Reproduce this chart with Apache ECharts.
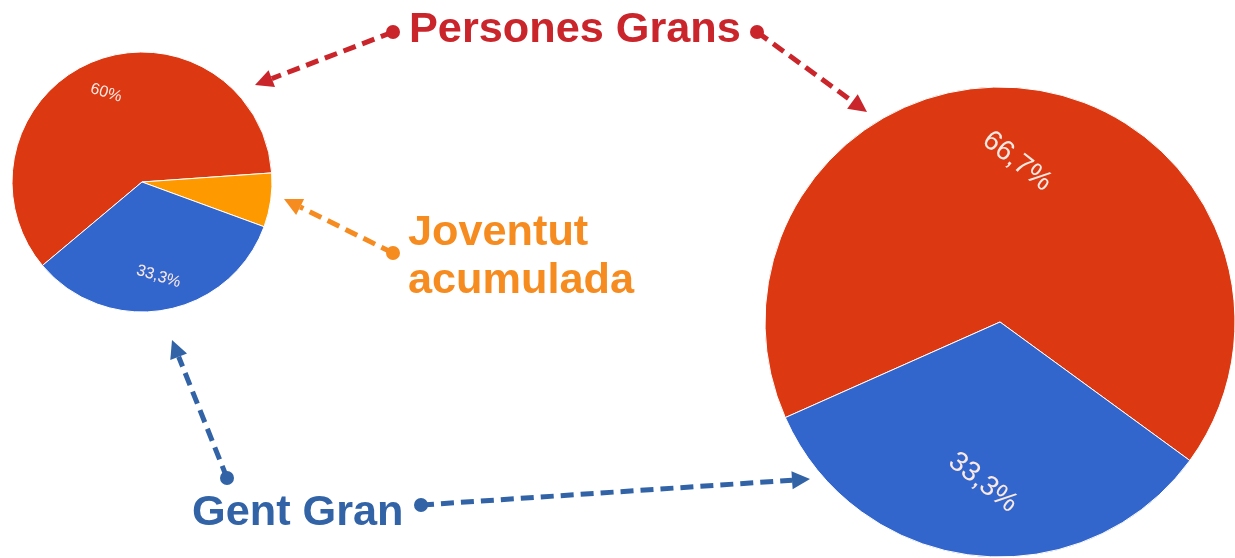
<!DOCTYPE html>
<html>
<head>
<meta charset="utf-8">
<script src="https://cdn.jsdelivr.net/npm/echarts@6/dist/echarts.min.js"></script>
<style>
  html, body { margin: 0; padding: 0; background: #fff; }
  #main { width: 1235px; height: 558px; }
</style>
</head>
<body>
<div id="main"></div>
<script>
// data
const leftNames = ['Persones Grans', 'Joventut acumulada', 'Gent Gran'];
const leftValues = [60, 6.7, 33.3];
const rightNames = ['Persones Grans', 'Gent Gran'];
const rightValues = [66.7, 33.3];
const sliceColors = {
  'Persones Grans': '#dc3912',
  'Joventut acumulada': '#ff9900',
  'Gent Gran': '#3366cc'
};
const hideLabel = ['Joventut acumulada'];

const RED = '#c9252b', ORANGE = '#f68b1f', BLUE = '#3163a6';
const FONT = '"Liberation Sans", Arial, sans-serif';

function pct(v) {
  return String(Math.round(v * 10) / 10).replace('.', ',') + '%';
}

function toData(names, values) {
  return names.map((n, i) => ({
    name: n,
    value: values[i],
    itemStyle: { color: sliceColors[n] }
  }));
}

function toLabelData(names, values) {
  return names.map((n, i) => ({
    name: n,
    value: values[i],
    label: { show: hideLabel.indexOf(n) < 0 }
  }));
}

function pieSeries(names, values, center, r, startAngle) {
  return {
    type: 'pie',
    center: center,
    radius: [0, r],
    startAngle: startAngle,
    clockwise: true,
    silent: true,
    label: { show: false },
    labelLine: { show: false },
    itemStyle: { borderColor: '#fff', borderWidth: 1 },
    emphasis: { disabled: true },
    data: toData(names, values)
  };
}

// transparent ring only used to place the percentage labels
function labelSeries(names, values, center, r, inner, startAngle, size, rot) {
  return {
    type: 'pie',
    center: center,
    radius: [Math.round(r * inner), r],
    startAngle: startAngle,
    clockwise: true,
    silent: true,
    itemStyle: { color: 'rgba(0,0,0,0)', borderWidth: 0 },
    emphasis: { disabled: true },
    labelLine: { show: false },
    label: {
      show: true,
      position: 'inside',
      rotate: rot,
      color: '#fbe9e4',
      fontFamily: FONT,
      fontSize: size,
      formatter: p => pct(p.value)
    },
    data: toLabelData(names, values)
  };
}

function arrow(x1, y1, x2, y2, color) {
  const dx = x2 - x1, dy = y2 - y1;
  const len = Math.sqrt(dx * dx + dy * dy);
  const ux = dx / len, uy = dy / len;
  const hl = 18, hw = 9;
  const bx = x2 - ux * hl, by = y2 - uy * hl;
  return [
    {
      type: 'line',
      shape: { x1: x1, y1: y1, x2: bx, y2: by },
      style: { stroke: color, lineWidth: 5, lineDash: [13, 7] }
    },
    {
      type: 'circle',
      shape: { cx: x1, cy: y1, r: 7 },
      style: { fill: color }
    },
    {
      type: 'polygon',
      shape: { points: [[x2, y2], [bx - uy * hw, by + ux * hw], [bx + uy * hw, by - ux * hw]] },
      style: { fill: color }
    }
  ];
}

function label(text, x, y, color) {
  return {
    type: 'text',
    x: x,
    y: y,
    scaleX: 1.03,
    style: {
      text: text, x: 0, y: 0, fill: color,
      font: 'bold 42px ' + FONT,
      textAlign: 'left', textVerticalAlign: 'middle'
    }
  };
}

const chart = echarts.init(document.getElementById('main'), null, { renderer: 'canvas' });
chart.setOption({
  animation: false,
  backgroundColor: '#fff',
  series: [
    pieSeries(leftNames, leftValues, [142, 182], 130, 220),
    labelSeries(leftNames, leftValues, [142, 182], 130, 0.43, 220, 16, -17),
    pieSeries(rightNames, rightValues, [1000, 322], 235, 204),
    labelSeries(rightNames, rightValues, [1000, 322], 235, 0.35, 204, 28, -38)
  ],
  graphic: [
    label('Persones Grans', 409, 30, RED),
    label('Joventut', 408, 233, ORANGE),
    label('acumulada', 408, 281, ORANGE),
    label('Gent Gran', 192, 513, BLUE)
  ]
    .concat(arrow(393, 32, 255, 85, RED))
    .concat(arrow(757, 32, 867, 112, RED))
    .concat(arrow(393, 253, 284, 199, ORANGE))
    .concat(arrow(227, 478, 172, 340, BLUE))
    .concat(arrow(421, 505, 810, 479, BLUE))
});
</script>
</body>
</html>
